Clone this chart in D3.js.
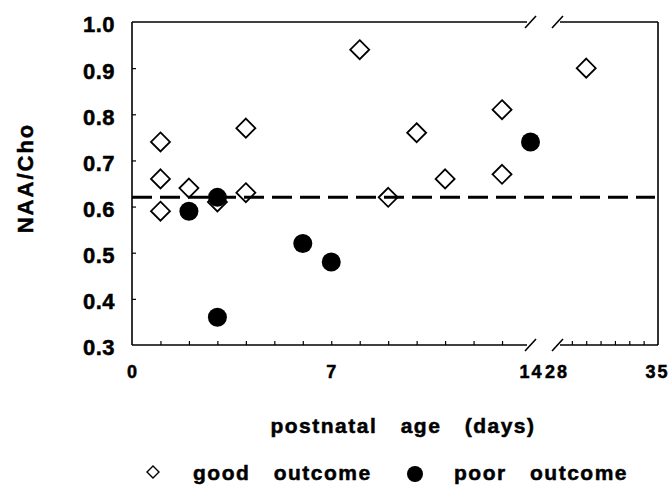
<!DOCTYPE html>
<html>
<head>
<meta charset="utf-8">
<script src="https://cdn.jsdelivr.net/npm/d3@7"></script>
<style>
  body { margin: 0; background: #fff; }
  text { font-family: "Liberation Sans", Arial, sans-serif; font-weight: bold; fill: #000; stroke: #000; stroke-width: 0.5px; }
</style>
</head>
<body>
<svg id="chart"></svg>
<script>
// data
const goodDays = [1, 1, 1, 2, 3, 4, 4, 8, 9, 10, 11, 13, 13, 30];
const goodRatio = [0.74, 0.66, 0.59, 0.64, 0.61, 0.77, 0.63, 0.94, 0.62, 0.76, 0.66, 0.81, 0.67, 0.90];
const poorDays = [2, 3, 3, 6, 7, 14];
const poorRatio = [0.59, 0.62, 0.36, 0.52, 0.48, 0.74];
const yTicks = [0.3, 0.4, 0.5, 0.6, 0.7, 0.8, 0.9, 1.0];
const xTicksLeft = [0, 7, 14];
const xTicksRight = [28, 35];
const minorLeft = d3.range(1, 14);
const minorRight = d3.range(29, 35);
const cutoff = 0.62;

const W = 670, H = 490;
const plot = { left: 132, right: 658, top: 22, bottom: 345 };
const breakA = 530.5, breakB = 557.5;

const svg = d3.select("#chart").attr("width", W).attr("height", H);

// broken x axis: two linear pieces
const xLeft = d3.scaleLinear().domain([0, 14]).range([plot.left, breakA]);
const xRight = d3.scaleLinear().domain([28, 35]).range([breakB, plot.right]);
const x = (d) => (d <= 14 ? xLeft(d) : xRight(d));
const y = d3.scaleLinear().domain([0.3, 1.0]).range([plot.bottom, plot.top]);

// frame with gaps at the break
const frame = svg.append("g").attr("stroke", "#000").attr("stroke-width", 1.6).attr("fill", "none");
[plot.top, plot.bottom].forEach((yy) => {
  frame.append("line").attr("x1", plot.left).attr("x2", breakA - 3.5).attr("y1", yy).attr("y2", yy);
  frame.append("line").attr("x1", breakB + 2.5).attr("x2", plot.right).attr("y1", yy).attr("y2", yy);
  [breakA, breakB].forEach((bx) => {
    frame.append("line")
      .attr("x1", bx - 5.5).attr("y1", yy + 6)
      .attr("x2", bx + 5.5).attr("y2", yy - 6);
  });
});
frame.append("line").attr("x1", plot.left).attr("x2", plot.left).attr("y1", plot.top).attr("y2", plot.bottom);
frame.append("line").attr("x1", plot.right).attr("x2", plot.right).attr("y1", plot.top).attr("y2", plot.bottom);

// y axis labels + inward ticks
const yAxis = svg.append("g")
  .attr("transform", `translate(${plot.left},0)`)
  .call(d3.axisLeft(y).tickValues(yTicks).tickFormat(d3.format(".1f")).tickSize(0).tickPadding(17));
yAxis.select(".domain").remove();
yAxis.selectAll("text").attr("font-family", null).attr("font-size", null)
  .attr("dy", "0.45em")
  .style("font-size", "22px").style("letter-spacing", "0.5px");

svg.append("g")
  .attr("transform", `translate(${plot.left},0)`)
  .call(d3.axisLeft(y).tickValues(yTicks.slice(1, -1)).tickFormat("").tickSize(-4))
  .call((g) => g.select(".domain").remove())
  .selectAll("line").attr("stroke-width", 1.2);

// x axis labels (two pieces)
[[xLeft, xTicksLeft, "0.5px"], [xRight, xTicksRight, "-1px"]].forEach(([sc, vals, shift]) => {
  const g = svg.append("g")
    .attr("transform", `translate(0,${plot.bottom})`)
    .call(d3.axisBottom(sc).tickValues(vals).tickFormat(d3.format("d")).tickSize(0).tickPadding(20));
  g.select(".domain").remove();
  g.selectAll("text").attr("font-family", null).attr("font-size", null)
    .style("font-size", "18px").style("letter-spacing", "2px")
    .attr("dx", shift);
});

// minor ticks on the x axis
[[xLeft, minorLeft], [xRight, minorRight]].forEach(([sc, vals]) => {
  svg.append("g")
    .attr("transform", `translate(0,${plot.bottom})`)
    .call(d3.axisBottom(sc).tickValues(vals).tickFormat("").tickSize(-4))
    .call((g) => g.select(".domain").remove())
    .selectAll("line").attr("stroke-width", 1.2);
});

// cutoff line
svg.append("line")
  .attr("x1", plot.left).attr("x2", plot.right - 3)
  .attr("y1", y(cutoff)).attr("y2", y(cutoff))
  .attr("stroke", "#000").attr("stroke-width", 3)
  .attr("stroke-dasharray", "20,8");

// good outcome: open diamonds
const diamond = (r) => `M0,${-r}L${r},0L0,${r}L${-r},0Z`;
svg.append("g").selectAll("path")
  .data(goodDays.map((d, i) => [d, goodRatio[i]]))
  .join("path")
  .attr("d", diamond(9.5))
  .attr("transform", (d) => `translate(${x(d[0])},${y(d[1])})`)
  .attr("fill", "none").attr("stroke", "#000").attr("stroke-width", 1.8);

// poor outcome: filled circles
svg.append("g").selectAll("circle")
  .data(poorDays.map((d, i) => [d, poorRatio[i]]))
  .join("circle")
  .attr("cx", (d) => x(d[0])).attr("cy", (d) => y(d[1]))
  .attr("r", 9.5).attr("fill", "#000");

// axis titles
const titleStyle = (sel) => sel
  .style("font-size", "21px").style("letter-spacing", "1.5px").style("word-spacing", "16px");

svg.append("text")
  .attr("x", 403).attr("y", 433)
  .attr("text-anchor", "middle")
  .call(titleStyle)
  .text("postnatal age (days)");

svg.append("text")
  .attr("transform", "translate(33,178) rotate(-90)")
  .attr("text-anchor", "middle")
  .style("font-size", "22px").style("letter-spacing", "2px")
  .text("NAA/Cho");

// legend
const legend = svg.append("g");
legend.append("path").attr("d", diamond(6)).attr("transform", "translate(153,472)")
  .attr("fill", "none").attr("stroke", "#000").attr("stroke-width", 1.4);
legend.append("text").attr("x", 193).attr("y", 480)
  .call(titleStyle)
  .text("good outcome");
legend.append("circle").attr("cx", 415).attr("cy", 474).attr("r", 8).attr("fill", "#000");
legend.append("text").attr("x", 454).attr("y", 480)
  .call(titleStyle)
  .text("poor outcome");
</script>
</body>
</html>
